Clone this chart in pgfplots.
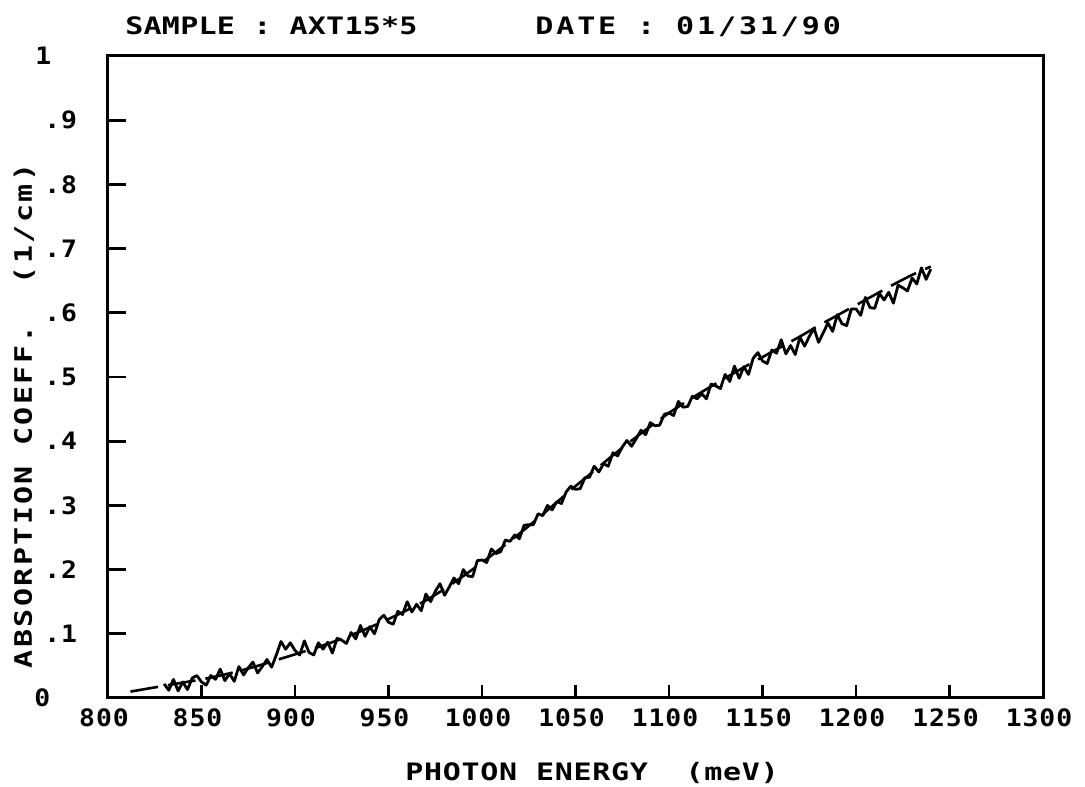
\documentclass[border=0pt]{standalone}
\usepackage{pgfplots}
\pgfplotsset{compat=1.18}
\usepackage{fontspec}
\setmainfont{DejaVu Sans Mono}
\newfontfamily\plotfont{DejaVu Sans Mono}
\newcommand{\pf}[2]{\plotfont\bfseries\fontsize{12}{14}\selectfont\addfontfeature{FakeStretch=#2,LetterSpace=#1}}
\begin{document}
\begin{tikzpicture}
\begin{axis}[
  at={(0,0)}, anchor=south west,
  scale only axis, width=467.5pt, height=321pt,
  xmin=800, xmax=1300, ymin=0, ymax=1,
  xtick={800,850,900,950,1000,1050,1100,1150,1200,1250,1300},
  xticklabels={800,850,900,950,1000,1050,1100,1150,1200,1250,1300},
  ytick={0,0.1,0.2,0.3,0.4,0.5,0.6,0.7,0.8,0.9,1},
  yticklabels={\hspace*{-5pt}0,.1,.2,.3,.4,.5,.6,.7,.8,.9,\hspace*{-4.5pt}1},
  tick align=inside, xtick pos=bottom, ytick pos=left,
  axis line style={line width=1.5pt, black},
  xtick style={line width=1.4pt, black, /pgfplots/major tick length=6.5pt},
  ytick style={line width=1.4pt, black, /pgfplots/major tick length=9pt},
  xticklabel style={font=\pf{4}{1.1}, anchor=north, inner sep=0pt, yshift=-5pt, xshift=-2pt},
  yticklabel style={font=\pf{4}{1.1}, anchor=west, inner sep=0pt, xshift=-32pt},
]
% solid measured curve
\addplot[black, line width=1.4pt, line join=round] coordinates {
(830,0.022)(832.5,0.012)(835,0.029)(837.5,0.011)(840,0.025)
(842.5,0.013)(845,0.031)(847.5,0.035)(850,0.025)
(852.5,0.020)(855,0.035)(857.5,0.029)(860,0.045)
(862.5,0.027)(865,0.038)(867.5,0.026)(870,0.049)
(872.5,0.036)(875,0.047)(877.5,0.056)(880,0.039)
(882.5,0.049)(885,0.060)(887.5,0.048)(890,0.067)
(892.5,0.088)(895,0.076)(897.5,0.086)(900,0.074)
(902.5,0.067)(905,0.089)(907.5,0.071)(910,0.067)
(912.5,0.086)(915,0.076)(917.5,0.087)(920,0.070)
(922.5,0.093)(925,0.090)(927.5,0.085)(930,0.102)
(932.5,0.092)(935,0.113)(937.5,0.096)(940,0.111)
(942.5,0.100)(945,0.122)(947.5,0.129)(950,0.118)
(952.5,0.115)(955,0.135)(957.5,0.130)(960,0.150)
(962.5,0.134)(965,0.146)(967.5,0.136)(970,0.162)
(972.5,0.150)(975,0.166)(977.5,0.178)(980,0.160)
(982.5,0.173)(985,0.187)(987.5,0.178)(990,0.200)
(992.5,0.190)(995,0.189)(997.5,0.214)(1000,0.215)
(1002.5,0.211)(1005,0.232)(1007.5,0.225)(1010,0.228)
(1012.5,0.246)(1015,0.244)(1017.5,0.254)(1020,0.248)
(1022.5,0.269)(1025,0.270)(1027.5,0.270)(1030,0.287)
(1032.5,0.284)(1035,0.300)(1037.5,0.293)(1040,0.306)
(1042.5,0.303)(1045,0.321)(1047.5,0.330)(1050,0.325)
(1052.5,0.326)(1055,0.343)(1057.5,0.344)(1060,0.361)
(1062.5,0.352)(1065,0.365)(1067.5,0.361)(1070,0.382)
(1072.5,0.377)(1075,0.391)(1077.5,0.401)(1080,0.392)
(1082.5,0.404)(1085,0.417)(1087.5,0.410)(1090,0.429)
(1092.5,0.424)(1095,0.425)(1097.5,0.442)(1100,0.444)
(1102.5,0.440)(1105,0.462)(1107.5,0.453)(1110,0.454)
(1112.5,0.470)(1115,0.466)(1117.5,0.474)(1120,0.466)
(1122.5,0.489)(1125,0.486)(1127.5,0.482)(1130,0.504)
(1132.5,0.493)(1135,0.517)(1137.5,0.498)(1140,0.516)
(1142.5,0.504)(1145,0.529)(1147.5,0.538)(1150,0.525)
(1152.5,0.521)(1155,0.542)(1157.5,0.537)(1160,0.558)
(1162.5,0.536)(1165,0.549)(1167.5,0.535)(1170,0.562)
(1172.5,0.548)(1175,0.563)(1177.5,0.576)(1180,0.554)
(1182.5,0.569)(1185,0.584)(1187.5,0.571)(1190,0.597)
(1192.5,0.583)(1195,0.580)(1197.5,0.606)(1200,0.606)
(1202.5,0.596)(1205,0.624)(1207.5,0.608)(1210,0.607)
(1212.5,0.630)(1215,0.620)(1217.5,0.632)(1220,0.615)
(1222.5,0.643)(1225,0.639)(1227.5,0.634)(1230,0.654)
(1232.5,0.645)(1235,0.670)(1237.5,0.652)(1240,0.668)
};
% dashed fit
\addplot[black, line width=1.3pt, dash pattern=on 14pt off 5pt, smooth] coordinates {
(812,0.010)(820,0.014)(830,0.019)(840,0.024)(850,0.029)(860,0.035)
(870,0.042)(880,0.050)(890,0.059)(900,0.068)(910,0.077)(920,0.087)
(930,0.098)(940,0.110)(950,0.123)(960,0.137)(970,0.152)(980,0.170)
(990,0.190)(1000,0.211)(1010,0.233)(1020,0.256)(1030,0.280)(1040,0.305)
(1050,0.330)(1060,0.354)(1070,0.378)(1080,0.401)(1090,0.423)(1100,0.444)
(1110,0.463)(1120,0.481)(1130,0.498)(1140,0.515)(1150,0.531)(1160,0.547)
(1170,0.563)(1180,0.580)(1190,0.596)(1200,0.612)(1210,0.628)(1220,0.644)
(1230,0.659)(1240,0.672)
};
\end{axis}
\node[anchor=base west, inner sep=0pt, font=\pf{1}{1.25}] at (8.5pt,331.5pt) {SAMPLE : AXT15*5};
\node[anchor=base west, inner sep=0pt, font=\pf{12}{1.25}] at (213.5pt,331.5pt) {DATE : 01/31/90};
\node[anchor=base, inner sep=0pt, font=\pf{3}{1.25}] at (242pt,-41pt) {PHOTON ENERGY \ (meV)};
\node[anchor=base, rotate=90, inner sep=0pt, font=\pf{10}{1.25}] at (-38pt,141pt) {ABSORPTION COEFF. \ (1/cm)};
\path (-54pt,-44pt) rectangle (488.5pt,349pt);
\end{tikzpicture}
\end{document}
